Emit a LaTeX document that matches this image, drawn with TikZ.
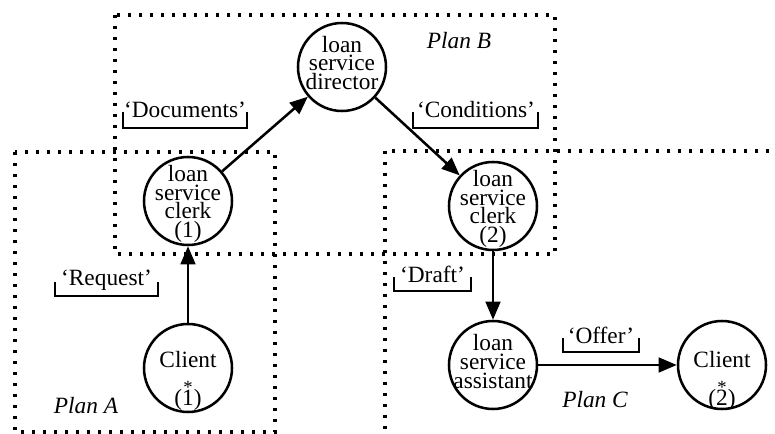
\documentclass[tikz,border=0pt]{standalone}
\usepackage{fontspec}
\setmainfont{Liberation Serif}
\usetikzlibrary{arrows.meta}
\newcommand{\starred}[1]{(\makebox[0pt][l]{\makebox[0.5em]{\raisebox{9pt}{\fontsize{14}{14}\selectfont *}}}#1)}
\begin{document}
\begin{tikzpicture}[x=0.75pt,y=-0.75pt,
  role/.style={circle,draw,line width=1.9pt,minimum size=66pt,inner sep=0pt},
  rtext/.style={align=center,inner sep=0pt,font=\fontsize{17.5}{13.9}\selectfont},
  flow/.style={line width=1.9pt,-{Triangle[length=13.5pt,width=11pt]}},
  planbox/.style={line width=2.5pt,dash pattern=on 2.5pt off 5.75pt},
  msg/.style={font=\fontsize{17.5}{13.9}\selectfont,inner sep=0pt,anchor=base},
  brk/.style={line width=1.8pt},
  plan/.style={font=\fontsize{17.5}{13.9}\selectfont\itshape,inner sep=0pt,anchor=base}]
\useasboundingbox (0,0) rectangle (775,434);
\clip (0,0) rectangle (775,434);

% plan regions
\draw[planbox] (115,15) rectangle (555,254);
\draw[planbox] (15,152) rectangle (275,432);
\draw[planbox] (385,151) rectangle (820,480);

% roles
\node[role] (dir) at (342,67) {};
\node[role] (cl1) at (188,201) {};
\node[role] (c1) at (188,368) {};
\node[role] (cl2) at (493,206) {};
\node[role] (asst) at (493,365) {};
\node[role] (c2) at (722,365) {};

\node[rtext] (tdir) at (342,63) {loan\\service\\director};
\node[rtext] (tcl1) at (188,204) {loan\\service\\clerk\\(1)};
\node[rtext] (tc1) at (188,381) {Client\\[9.35pt]\starred{1}};
\node[rtext] (tcl2) at (493,209) {loan\\service\\clerk\\(2)};
\node[rtext] (tasst) at (493,361.5) {loan\\service\\assistant};
\node[rtext] (tc2) at (722,381) {Client\\[9.35pt]\starred{2}};

% message flows
\draw[flow] (cl1) -- (dir);
\draw[flow] (dir) -- (cl2);
\draw[flow] (c1) -- (cl1);
\draw[flow] (cl2) -- (asst);
\draw[flow] (asst) -- (c2);

% message labels with brackets
\node[msg] (mdoc) at (185,118) {‘Documents’};
\draw[brk] (123,112) |- (247,128) -- (247,112);
\node[msg] (mcond) at (476,118) {‘Conditions’};
\draw[brk] (413,112) |- (538,128) -- (538,112);
\node[msg] (mreq) at (106.5,286) {‘Request’};
\draw[brk] (55,282) |- (158,296) -- (158,282);
\node[msg] (mdraft) at (432.5,283) {‘Draft’};
\draw[brk] (394,277) |- (471,291) -- (471,277);
\node[msg] (moffer) at (601,344) {‘Offer’};
\draw[brk] (563,338) |- (639,352) -- (639,338);

% plan names
\node[plan] (pa) at (86,414) {Plan A};
\node[plan] (pb) at (459,49) {Plan B};
\node[plan] (pc) at (595,408) {Plan C};
\end{tikzpicture}
\end{document}
